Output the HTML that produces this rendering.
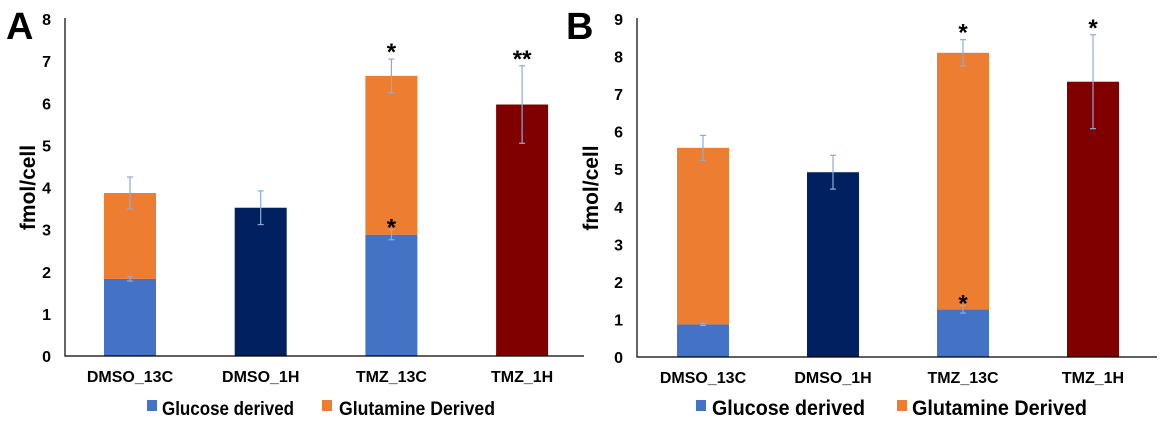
<!DOCTYPE html>
<html><head><meta charset="utf-8"><style>
html,body{margin:0;padding:0;background:#fff;}
svg{display:block;font-family:"Liberation Sans",sans-serif;}
</style></head><body>
<svg id="chart" width="1170" height="427" viewBox="0 0 1170 427" xmlns="http://www.w3.org/2000/svg"></svg>
<script>
const categories = ["DMSO_13C","DMSO_1H","TMZ_13C","TMZ_1H"];
const aGlucose = [1.83, 0, 2.88, 0];
const aGlutamine = [2.04, 0, 3.77, 0];
const aSingle = [0, 3.52, 0, 5.97];
const aTopErr = [0.38, 0.40, 0.40, 0.92];
const aGluErr = [0.05, 0, 0.12, 0];
const aTicks = [0,1,2,3,4,5,6,7,8];
const aStars = ["", "", "*", "**"];
const aGluStars = ["", "", "*", ""];
const bGlucose = [0.87, 0, 1.27, 0];
const bGlutamine = [4.70, 0, 6.83, 0];
const bSingle = [0, 4.92, 0, 7.33];
const bTopErr = [0.33, 0.45, 0.35, 1.25];
const bGluErr = [0.03, 0, 0.10, 0];
const bTicks = [0,1,2,3,4,5,6,7,8,9];
const bStars = ["", "", "*", "*"];
const bGluStars = ["", "", "*", ""];

const svg = document.getElementById('chart');
const NS = "http://www.w3.org/2000/svg";
function mk(tag, attrs, parent){const e=document.createElementNS(NS,tag);for(const k in attrs)e.setAttribute(k,attrs[k]);(parent||svg).appendChild(e);return e;}

function panel(p){
  const g = mk('g',{});
  
  
  const yMax = p.ticks[p.ticks.length-1];
  const y = v => p.y0 - (p.y0 - p.yTop) * v / yMax;
  const x = i => p.x0 + p.step * i;
  const L = mk('text',{x:p.letterX,y:39,'font-size':38,'font-weight':'bold',fill:'#000'},g);
  L.textContent = p.letter;
  
  
  const t = mk('text',{transform:`translate(${p.titleX},${(p.y0+p.yTop)/2}) rotate(-90)`,'text-anchor':'middle','font-size':21,'font-weight':'bold'},g);
  t.textContent = 'fmol/cell';
  
  
  p.ticks.forEach(v=>{
    const tl = mk('text',{x:p.axisX-14,y:y(v)+6,'text-anchor':'end','font-size':16,'font-weight':'bold'},g);
    tl.textContent = v;
    
    
  });
  categories.forEach((c,i)=>{
    const bx = x(i);
    const single = p.single[i] > 0;
    if(single){
      const r = mk('rect',{x:bx,y:y(p.single[i]),width:p.bw,height:y(0)-y(p.single[i]),fill:i===1?'#002060':'#800000'},g);
      
      
    } else {
      const r1 = mk('rect',{x:bx,y:y(p.glu[i]),width:p.bw,height:y(0)-y(p.glu[i]),fill:'#4472c4'},g);
      
      
      const tot = p.glu[i]+p.gln[i];
      const r2 = mk('rect',{x:bx,y:y(tot),width:p.bw,height:y(p.glu[i])-y(tot),fill:'#ed7d31'},g);
      
      
    }
    const cx = bx + p.bw/2;
    const top = single ? p.single[i] : p.glu[i]+p.gln[i];
    const errs = [[top,p.topErr[i]]];
    if(!single) errs.push([p.glu[i],p.gluErr[i]]);
    errs.forEach(([v,e])=>{
      if(!e) return;
      const eg = mk('g',{stroke:'#8eaadb','stroke-width':1.2},g);
      
      
      mk('line',{x1:cx,x2:cx,y1:y(v+e),y2:y(v-e)},eg);
      mk('line',{x1:cx-3,x2:cx+3,y1:y(v+e),y2:y(v+e)},eg);
      mk('line',{x1:cx-3,x2:cx+3,y1:y(v-e),y2:y(v-e)},eg);
    });
    if(p.stars[i]){
      const s = mk('text',{x:cx,y:y(top+p.topErr[i])+1,'text-anchor':'middle','font-size':24,'font-weight':'bold'},g);
      s.textContent = p.stars[i];
      
      
    }
    if(p.gluStars[i]){
      const s = mk('text',{x:cx,y:y(p.glu[i]+p.gluErr[i])+6,'text-anchor':'middle','font-size':24,'font-weight':'bold'},g);
      s.textContent = p.gluStars[i];
      
      
    }
    const xl = mk('text',{x:cx,y:p.y0+26,'text-anchor':'middle','font-size':16,'font-weight':'bold'},g);
    xl.textContent = c;
    
    
  });
  const ax = mk('path',{d:`M${p.axisX} ${p.yTop-1}V${p.y0}H${p.axisEnd}`,stroke:'#000','stroke-width':1.2,fill:'none'},g);
  
  
  const lg = mk('g',{},g);
  
  
  mk('rect',{x:p.leg[0],y:400,width:10,height:11,fill:'#4472c4'},lg);
  const l1 = mk('text',{x:p.leg[1],y:415,'font-size':p.legFs,'font-weight':'bold',textLength:p.leg[2],lengthAdjust:'spacingAndGlyphs'},lg);
  l1.textContent = 'Glucose derived';
  
  
  mk('rect',{x:p.leg[3],y:400,width:10,height:11,fill:'#ed7d31'},lg);
  const l2 = mk('text',{x:p.leg[4],y:415,'font-size':p.legFs,'font-weight':'bold',textLength:p.leg[5],lengthAdjust:'spacingAndGlyphs'},lg);
  l2.textContent = 'Glutamine Derived';
  
  
}

panel({id:'a',letter:'A',letterX:6,titleX:35,axisX:65,axisEnd:584,y0:356,yTop:19,x0:104,step:130.7,bw:52,
  ticks:aTicks,glu:aGlucose,gln:aGlutamine,single:aSingle,topErr:aTopErr,gluErr:aGluErr,stars:aStars,gluStars:aGluStars,
  leg:[147,162,132,322,339,156],legFs:19});
panel({id:'b',letter:'B',letterX:566,titleX:598,axisX:637,axisEnd:1157,y0:357,yTop:19,x0:677,step:130,bw:52,
  ticks:bTicks,glu:bGlucose,gln:bGlutamine,single:bSingle,topErr:bTopErr,gluErr:bGluErr,stars:bStars,gluStars:bGluStars,
  leg:[696,712,153,897,912,175],legFs:21});
</script>
</body></html>
